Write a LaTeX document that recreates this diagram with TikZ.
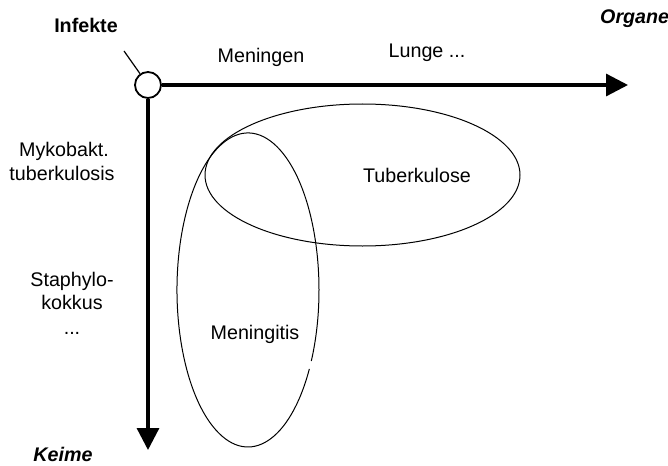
\documentclass[tikz,border=0pt]{standalone}
\usepackage{fontspec}
\setmainfont{Liberation Sans}
\usetikzlibrary{arrows.meta}
\begin{document}
\begin{tikzpicture}[x=1pt,y=-1pt,
  lbl/.style={inner sep=0pt, anchor=base, font=\fontsize{19.7}{23}\selectfont},
  axislbl/.style={lbl, font=\fontsize{19.7}{23}\selectfont\bfseries\itshape},
  axisline/.style={line width=3.3pt, -{Triangle[length=22pt,width=22pt]}},
  setline/.style={line width=1pt}]
\useasboundingbox (0,0) rectangle (668,465);
% sets
\draw[setline] (362.5,175) ellipse [x radius=157.5pt, y radius=71pt];
\draw[setline] (311.3,361.0) arc[start angle=-26.9, end angle=329.8, x radius=71pt, y radius=157pt];
% axes
\node[circle, draw, line width=1.8pt, minimum size=26pt, inner sep=0pt, fill=white] (o) at (148,85) {};
\coordinate (xe) at (628,85);
\coordinate (ye) at (148,450);
\coordinate (lead) at (124,51);
\draw[axisline] (o.east) -- (xe);
\draw[axisline] (o.south) -- (ye);
\draw[line width=1.2pt] (o) -- (lead);
% labels
\node[lbl, font=\fontsize{19.7}{23}\selectfont\bfseries] (inf) at (86,33) {Infekte};
\node[axislbl, anchor=base west] (org) at (600,24) {Organe};
\node[axislbl] (kei) at (63,461) {Keime};
\node[lbl] (men) at (261,63) {Meningen};
\node[lbl] (lun) at (427,58) {Lunge ...};
\node[lbl] (myk1) at (64,157) {Mykobakt.};
\node[lbl] (myk2) at (62,180) {tuberkulosis};
\node[lbl] (sta1) at (72,286) {Staphylo-};
\node[lbl] (sta2) at (72,309) {kokkus};
\node[lbl] (sta3) at (72,334) {...};
\node[lbl] (tub) at (417,182) {Tuberkulose};
\node[lbl] (mgt) at (255,339) {Meningitis};
\end{tikzpicture}
\end{document}
